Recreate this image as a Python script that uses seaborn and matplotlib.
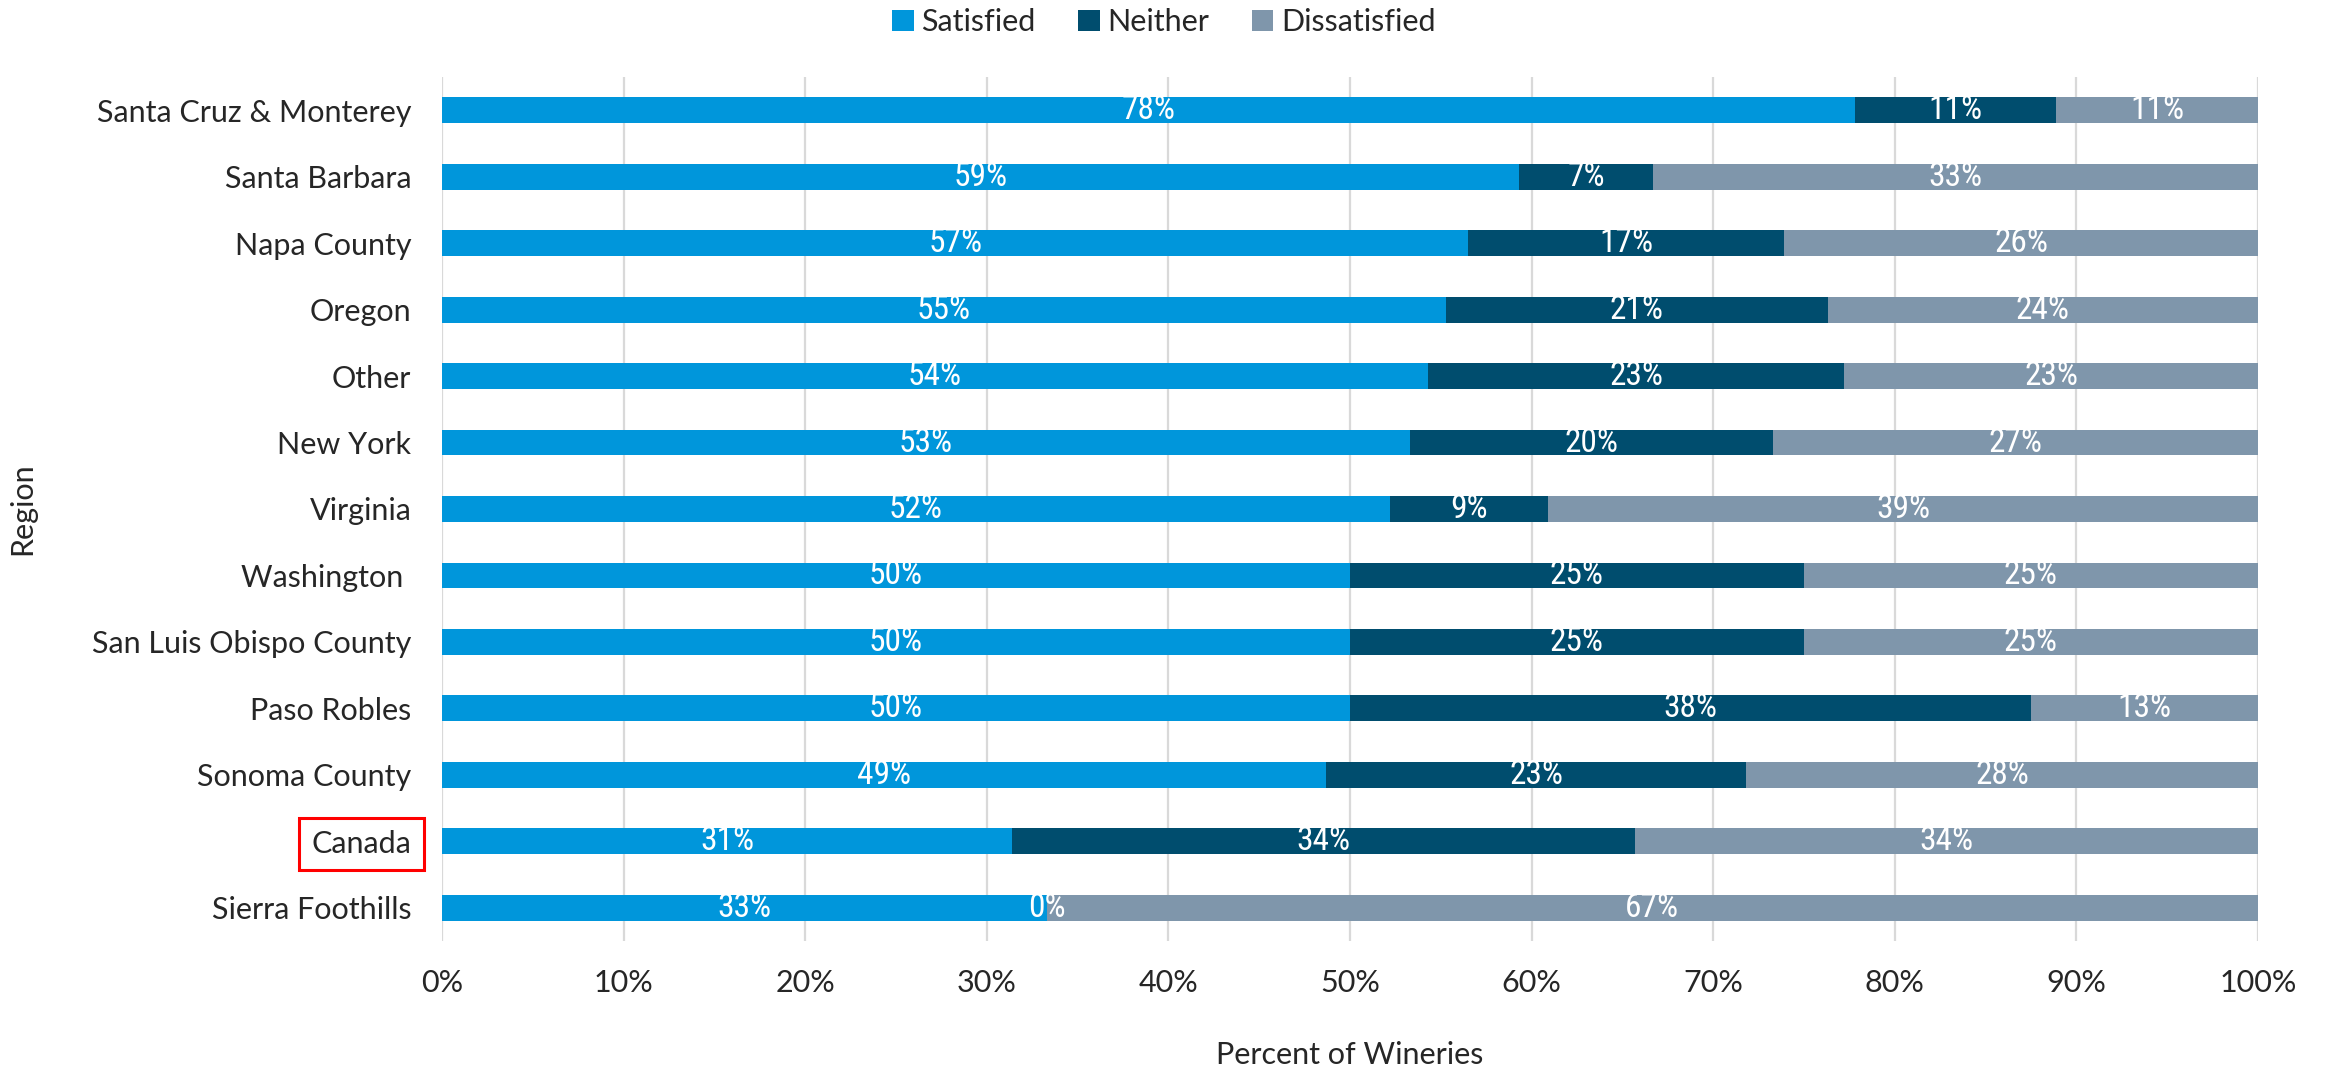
import matplotlib
matplotlib.use("Agg")
import matplotlib.pyplot as plt
from matplotlib.patches import Patch
import numpy as np
import pandas as pd
import seaborn as sns

# Survey results: share of wineries per region by satisfaction level (%)
regions = [
    "Santa Cruz & Monterey", "Santa Barbara", "Napa County", "Oregon", "Other",
    "New York", "Virginia", "Washington ", "San Luis Obispo County",
    "Paso Robles", "Sonoma County", "Canada", "Sierra Foothills",
]
satisfied = [77.8, 59.3, 56.52, 55.3, 54.3, 53.3, 52.2, 50.0, 50.0, 50.0, 48.7, 31.4, 33.3]
neither = [11.1, 7.4, 17.39, 21.0, 22.9, 20.0, 8.7, 25.0, 25.0, 37.5, 23.1, 34.3, 0.0]
dissatisfied = [11.1, 33.3, 26.09, 23.7, 22.9, 26.7, 39.1, 25.0, 25.0, 12.5, 28.2, 34.3, 66.7]

series_names = ["Satisfied", "Neither", "Dissatisfied"]
colors = {"Satisfied": "#0096DB", "Neither": "#004D6E", "Dissatisfied": "#7F96AB"}
xticks = [0, 10, 20, 30, 40, 50, 60, 70, 80, 90, 100]
xtick_labels = [f"{t}%" for t in xticks]
highlight = "Canada"

df = pd.DataFrame({
    "Region": regions,
    "Satisfied": satisfied,
    "Neither": neither,
    "Dissatisfied": dissatisfied,
})
df["cum_sat"] = df["Satisfied"]
df["cum_nei"] = df["Satisfied"] + df["Neither"]
df["cum_dis"] = df["cum_nei"] + df["Dissatisfied"]

sns.set_theme(style="white")
plt.rcParams["font.family"] = ["Lato", "DejaVu Sans"]
label_family = ["Roboto Condensed", "Liberation Sans Narrow", "Roboto", "DejaVu Sans"]

fig = plt.figure(figsize=(23.28, 10.66), dpi=100)
ax = fig.add_axes([0.18986, 0.11726, 0.78007, 0.81051])

# stacked bars: draw cumulative totals from the outermost segment inward
bar_w = 0.39
for cum_col, name in [("cum_dis", "Dissatisfied"), ("cum_nei", "Neither"), ("cum_sat", "Satisfied")]:
    sns.barplot(data=df, x=cum_col, y="Region", orient="h", color=colors[name],
                saturation=1, width=bar_w, linewidth=0, ax=ax, zorder=3)


def pct(v):
    # round half up, as percentages are usually displayed
    return f"{int(np.floor(v + 0.5))}%"


# value labels centred in each segment
for i, row in df.iterrows():
    starts = [0, row["cum_sat"], row["cum_nei"]]
    for start, name in zip(starts, series_names):
        val = row[name]
        ax.text(start + val / 2, i, pct(val), ha="center", va="center",
                color="white", fontsize=24, family=label_family, zorder=5)

ax.set_xlim(0, 100)
ax.set_ylim(len(regions) - 0.5, -0.5)
ax.set_xticks(xticks)
ax.set_xticklabels(xtick_labels)
ax.grid(axis="x", color="#D9D9D9", linewidth=1.6, zorder=0)
ax.grid(axis="y", visible=False)
for s in ax.spines.values():
    s.set_visible(False)
ax.tick_params(axis="y", length=0, pad=22, labelsize=22)
ax.tick_params(axis="x", length=0, pad=20, labelsize=22)

ax.set_xlabel("Percent of Wineries", fontsize=22, labelpad=32)
ax.set_ylabel("Region", fontsize=22)
ax.yaxis.set_label_coords(-0.2236, 0.5)

for lbl in ax.get_yticklabels():
    if lbl.get_text() == highlight:
        lbl.set_bbox(dict(facecolor="none", edgecolor="#FF0000", linewidth=2.2,
                          boxstyle="square,pad=0.4"))

handles = [Patch(facecolor=colors[n], edgecolor="none", label=n) for n in series_names]
fig.legend(handles=handles, loc="center", bbox_to_anchor=(0.5, 0.979), ncol=3,
           frameon=False, fontsize=22, handlelength=0.7, handleheight=0.7,
           handletextpad=0.25, columnspacing=1.4)

fig.savefig("out.png", dpi=100)
